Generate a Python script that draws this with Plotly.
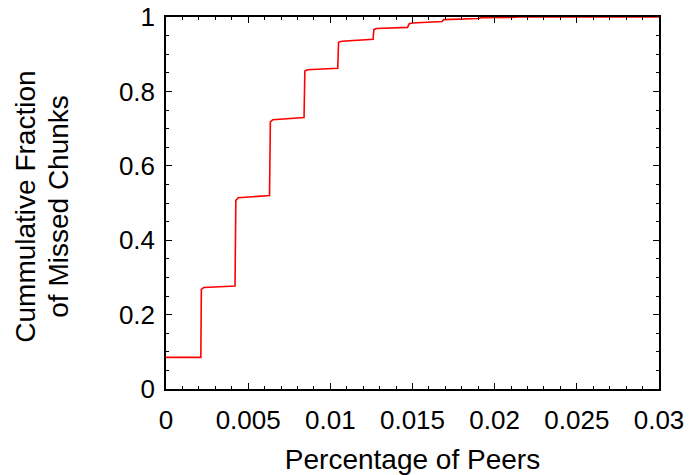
import plotly.graph_objects as go

# Percentage of peers (x) and cumulative fraction of missed chunks (y)
peers = [0, 0.00212, 0.00215, 0.0023, 0.0042, 0.00425, 0.0044, 0.0063, 0.00635, 0.0065,
         0.0084, 0.00845, 0.0086, 0.01045, 0.0105, 0.0107, 0.0126, 0.01265, 0.0128,
         0.0147, 0.0148, 0.015, 0.0168, 0.0169, 0.019, 0.0192, 0.021, 0.0215, 0.03]
cdf = [0.085, 0.085, 0.268, 0.273, 0.277, 0.507, 0.514, 0.52, 0.718, 0.724,
       0.73, 0.855, 0.858, 0.862, 0.932, 0.935, 0.94, 0.966, 0.969,
       0.972, 0.982, 0.984, 0.988, 0.993, 0.996, 0.998, 0.999, 1.0, 1.0]

x_ticks = [0, 0.005, 0.01, 0.015, 0.02, 0.025, 0.03]
x_labels = ["0", "0.005", "0.01", "0.015", "0.02", "0.025", "0.03"]
y_ticks = [0, 0.2, 0.4, 0.6, 0.8, 1]
y_labels = ["0", "0.2", "0.4", "0.6", "0.8", "1"]

x_title = "Percentage of Peers"
y_title_lines = ["Cummulative Fraction", "of Missed Chunks"]

fig = go.Figure()
fig.add_trace(go.Scatter(x=peers, y=cdf, mode="lines",
                         line=dict(color="#ff0000", width=1.6), showlegend=False))

fam = "Liberation Sans, Arial, sans-serif"
tick_font = dict(family=fam, size=26, color="black")
title_font = dict(family=fam, size=28, color="black")
axis_common = dict(showgrid=False, zeroline=False, showline=True, linecolor="black",
                   linewidth=1.5, mirror="allticks", ticks="inside", ticklen=6,
                   tickwidth=1.2, tickcolor="black", tickfont=tick_font, automargin=False)

fig.update_xaxes(range=[0, 0.03], tickvals=x_ticks, ticktext=x_labels,
                 minor=dict(dtick=0.001, ticks="inside", ticklen=3, tickcolor="black", tickwidth=1),
                 ticklabelstandoff=7,
                 title=dict(text=x_title, font=title_font, standoff=16),
                 **axis_common)
fig.update_yaxes(range=[0, 1], tickvals=y_ticks, ticktext=y_labels,
                 minor=dict(dtick=0.05, ticks="inside", ticklen=3, tickcolor="black", tickwidth=1),
                 ticklabelstandoff=4,
                 **axis_common)

for line, xpx in zip(y_title_lines, [26, 59]):
    fig.add_annotation(text=line, textangle=-90, xref="paper", yref="paper",
                       x=(xpx - 166) / 493, y=0.49, xanchor="center", yanchor="middle",
                       showarrow=False, font=title_font)

fig.update_layout(width=691, height=475, margin=dict(l=166, r=32, t=17, b=86),
                  paper_bgcolor="white", plot_bgcolor="white")

fig.write_html("out.html")
